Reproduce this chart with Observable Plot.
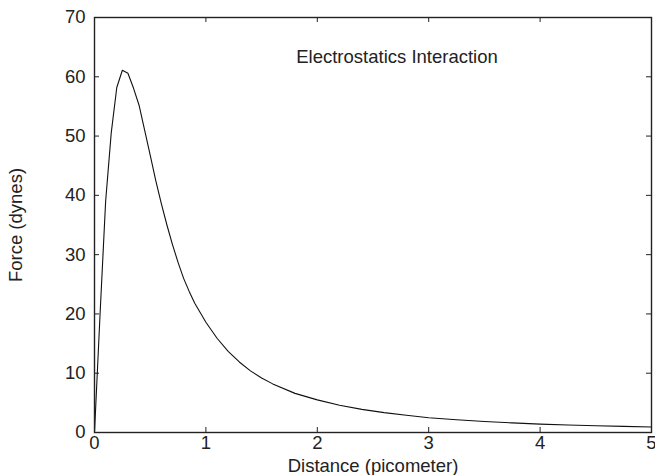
<!DOCTYPE html>
<html>
<head>
<meta charset="utf-8">
<script src="https://cdn.jsdelivr.net/npm/d3@7"></script>
<script src="https://cdn.jsdelivr.net/npm/@observablehq/plot@0.6"></script>
<style>
  html, body { margin: 0; padding: 0; background: #fff; }
  #chart svg { font-family: "Liberation Sans", Arial, Helvetica, sans-serif; }
</style>
</head>
<body>
<div id="chart"></div>
<script>
// Distance (picometer)
const distance = [0, 0.05, 0.1, 0.15, 0.2, 0.25, 0.3, 0.35, 0.4, 0.45, 0.5, 0.55, 0.6, 0.65, 0.7, 0.75, 0.8, 0.85, 0.9, 0.95, 1.0,
  1.1, 1.2, 1.3, 1.4, 1.5, 1.6, 1.8, 2.0, 2.2, 2.4, 2.6, 2.8, 3.0, 3.25, 3.5, 3.75, 4.0, 4.25, 4.5, 4.75, 5.0];
// Force (dynes)
const force = [0, 20, 39, 50.5, 58.2, 61.1, 60.6, 58.1, 55.2, 51.0, 46.8, 42.5, 38.6, 35.0, 31.7, 28.7, 26.0, 23.8, 21.8, 20.2, 18.6,
  15.9, 13.7, 11.9, 10.4, 9.2, 8.2, 6.6, 5.5, 4.6, 3.9, 3.35, 2.9, 2.5, 2.15, 1.86, 1.62, 1.42, 1.26, 1.13, 1.03, 0.94];
const xTicks = [0, 1, 2, 3, 4, 5];
const yTicks = [0, 10, 20, 30, 40, 50, 60, 70];
const title = "Electrostatics Interaction";
const xLabel = "Distance (picometer)";
const yLabel = "Force (dynes)";

const data = distance.map((d, i) => ({distance: d, force: force[i]}));

const W = 655, H = 475;
const mL = 94, mR = 4, mT = 17, mB = 43;
const innerW = W - mL - mR, innerH = H - mT - mB;
const tk = 5;
const ink = "#222";
const fs = 18.5;

const chart = Plot.plot({
  width: W,
  height: H,
  marginLeft: mL,
  marginRight: mR,
  marginTop: mT,
  marginBottom: mB,
  style: {fontFamily: '"Liberation Sans", Arial, Helvetica, sans-serif', fontSize: fs + "px", color: ink, background: "#fff"},
  x: {domain: [0, 5], ticks: xTicks},
  y: {domain: [0, 70], ticks: yTicks},
  marks: [
    Plot.axisX(xTicks, {tickSize: 0, tickPadding: 3, fontSize: fs, label: null, tickFormat: d => String(d)}),
    Plot.axisY(yTicks, {tickSize: 0, tickPadding: 9, fontSize: fs, label: null, tickFormat: d => String(d)}),
    // inward ticks on all four sides
    Plot.tickX(xTicks, {x: d => d, insetTop: innerH - tk, stroke: ink}),
    Plot.tickX(xTicks, {x: d => d, insetBottom: innerH - tk, stroke: ink}),
    Plot.tickY(yTicks, {y: d => d, insetRight: innerW - tk, stroke: ink}),
    Plot.tickY(yTicks, {y: d => d, insetLeft: innerW - tk, stroke: ink}),
    Plot.line(data, {x: "distance", y: "force", stroke: "#111", strokeWidth: 1.1}),
    Plot.frame({stroke: ink, strokeWidth: 1.4}),
    Plot.text([title], {text: d => d, frameAnchor: "top", dx: 24, dy: 40, lineAnchor: "middle", textAnchor: "middle", fontSize: fs, fill: ink}),
    Plot.text([xLabel], {text: d => d, frameAnchor: "bottom", dy: 34, lineAnchor: "middle", textAnchor: "middle", fontSize: fs, fill: ink}),
    Plot.text([yLabel], {text: d => d, frameAnchor: "left", dx: -78, rotate: -90, lineAnchor: "middle", textAnchor: "middle", fontSize: fs, fill: ink})
  ]
});
document.getElementById("chart").appendChild(chart);
</script>
</body>
</html>
